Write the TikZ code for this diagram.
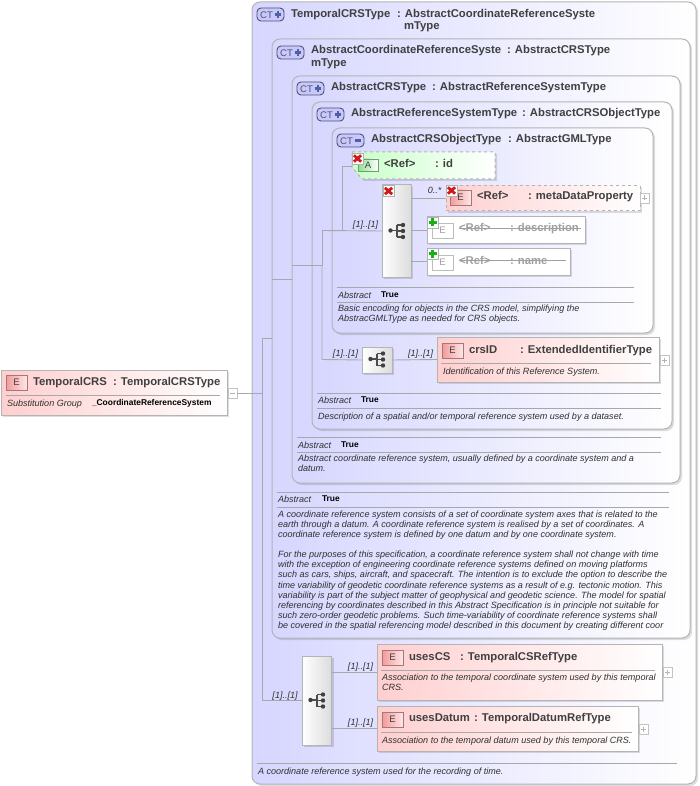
\documentclass[tikz,border=0pt]{standalone}
\usepackage{fontspec}
\setmainfont{Liberation Sans}
\usetikzlibrary{shadows}
\definecolor{ink}{HTML}{404040}
\definecolor{txt}{HTML}{303030}
\definecolor{edgeg}{HTML}{B4B4B4}
\definecolor{conng}{HTML}{A8A8A8}
\definecolor{dis}{HTML}{A0A0A0}
\definecolor{ctblue}{HTML}{D6D6FF}
\definecolor{elpink}{HTML}{FFCFCF}
\definecolor{attgreen}{HTML}{C8FFC8}
\definecolor{seqgray}{HTML}{DCDCDC}
\definecolor{eedge}{HTML}{A07A7A}
\definecolor{eleft}{HTML}{F49A9A}
\definecolor{eright}{HTML}{FFE6E6}
\definecolor{ctedge}{HTML}{505070}
\definecolor{ctfill}{HTML}{C8C8FC}
\definecolor{ctsign}{HTML}{5060A0}
\definecolor{aedge}{HTML}{6F9F6F}
\definecolor{aleft}{HTML}{8FE08F}
\tikzset{
 sh/.style={drop shadow={shadow xshift=2pt,shadow yshift=-2pt,fill=black,opacity=.13}},
 ctbox/.style={draw=edgeg,line width=1pt,rounded corners=8pt,left color=ctblue,right color=white,inner sep=0pt,outer sep=0pt,sh},
 elbox/.style={draw=edgeg,line width=1pt,left color=elpink,right color=white,inner sep=0pt,outer sep=0pt,sh},
 refbox/.style={elbox,dashed},
 disbox/.style={draw=edgeg,line width=1pt,fill=white,inner sep=0pt,outer sep=0pt,sh},
 attshape/.style={draw=edgeg,dashed,line width=1pt,left color=attgreen,right color=white,sh},
 seqbox/.style={draw=edgeg,line width=1pt,left color=white,right color=seqgray,inner sep=0pt,outer sep=0pt,sh},
 expbox/.style={draw=edgeg!80,line width=.7pt,fill=white,inner sep=0pt,outer sep=0pt},
 eicon/.style={draw=eedge,line width=.8pt,left color=eleft,right color=eright,inner sep=0pt,outer sep=0pt},
 eicond/.style={draw=dis!70,line width=.7pt,fill=white,inner sep=0pt,outer sep=0pt},
 cticon/.style={draw=ctedge,line width=.9pt,rounded corners=4pt,fill=ctfill,inner sep=0pt,outer sep=0pt},
 aicon/.style={draw=aedge,line width=.8pt,left color=aleft,right color=white,inner sep=0pt,outer sep=0pt},
 tt/.style={anchor=base west,inner sep=0pt,outer sep=0pt,text=ink,font=\fontsize{11.3}{13}\selectfont\bfseries},
 ttd/.style={tt,text=dis},
 it/.style={anchor=base west,inner sep=0pt,outer sep=0pt,text=txt,font=\fontsize{9.05}{10.15}\selectfont\itshape},
 tru/.style={anchor=base west,inner sep=0pt,outer sep=0pt,text=black,font=\fontsize{8.4}{9}\selectfont\bfseries},
 card/.style={anchor=base,inner sep=0pt,outer sep=0pt,text=txt,font=\fontsize{9}{10}\selectfont\itshape},
 conn/.style={draw=conng,line width=.9pt},
 rulel/.style={draw=conng,line width=.9pt},
 seqsym/.pic={
  \draw[black!70,line width=1.1pt] (-6.5,0) -- (0,0) (0,-5.5) -- (0,6.5) (0,-5.5) -- (6,-5.5) (0,.5) -- (6,.5) (0,6.5) -- (6,6.5);
  \fill[black!75] (-6.5,0) circle (2.2);
  \fill[black!75] (6,-5.5) circle (2.2) (6,.5) circle (2.2) (6,6.5) circle (2.2);
 },
 xmark/.pic={
  \fill[white] (-5.5,-5.5) rectangle (5.5,5.5);
  \draw[black!30,line width=.4pt] (-5.5,-5.5) rectangle (5.5,5.5);
  \draw[red!80!black!90,line width=2.8pt] (-3.6,-3.2) -- (3.6,3.2) (-3.6,3.2) -- (3.6,-3.2);
 },
 gplus/.pic={
  \fill[white] (-5.5,-5.5) rectangle (5.5,5.5);
  \draw[black!30,line width=.4pt] (-5.5,-5.5) rectangle (5.5,5.5);
  \draw[green!65!black!90,line width=2.8pt] (-4,0) -- (4,0) (0,-4) -- (0,4);
 },
 pluss/.pic={\draw[edgeg,line width=.7pt] (-2.5,0) -- (2.5,0) (0,-2.5) -- (0,2.5);},
 minuss/.pic={\draw[edgeg,line width=.7pt] (-2.5,0) -- (2.5,0);},
 ctplus/.pic={\draw[ctsign,line width=2.3pt] (-3.4,0) -- (3.4,0) (0,-3.4) -- (0,3.4);},
 ctminus/.pic={\draw[ctsign,line width=2.6pt] (-3.4,0) -- (3.4,0);},
}
\newcommand{\bx}[6]{%
 \pgfmathsetmacro\qcx{(#3+#5)/2}\pgfmathsetmacro\qcy{(#4+#6)/2}%
 \pgfmathsetmacro\qw{#5-#3}\pgfmathsetmacro\qh{#6-#4}%
 \node[#2,minimum width=\qw pt,minimum height=\qh pt] (#1) at (\qcx,\qcy) {};}
\newcommand{\ctic}[4]{% name x y sign
 \bx{#1}{cticon}{#2}{#3}{#2+27}{#3+13}
 \node[anchor=base west,inner sep=0pt,text=ctedge,font=\fontsize{9.6}{10}\selectfont] (#1t) at (#2+3,#3+10.2) {CT};
 \pic at (#2+21,#3+6.5) {#4};}
\newcommand{\eic}[4]{% name x y style
 \bx{#1}{#4}{#2}{#3}{#2+21}{#3+15}
 \node[inner sep=0pt,text=ink,font=\fontsize{9.5}{10}\selectfont] (#1t) at (#1) {E};}
\newcommand{\eicd}[3]{%
 \bx{#1}{eicond}{#2}{#3}{#2+21}{#3+15}
 \node[inner sep=0pt,text=dis,font=\fontsize{9.5}{10}\selectfont] (#1t) at (#1) {E};}
\newcommand{\exb}[4]{% name x y pic
 \bx{#1}{expbox}{#2}{#3}{#2+9}{#3+10}
 \pic at (#1) {#4};}
\begin{document}
\begin{tikzpicture}[x=1pt,y=-1pt]
\useasboundingbox (0,0) rectangle (700,786);
% nested type boxes
\bx{ct1}{ctbox}{252}{2}{696}{784}
\bx{ct2}{ctbox}{272}{39}{690}{638}
\bx{ct3}{ctbox}{292}{76}{680}{483}
\bx{ct4}{ctbox}{312}{102}{672}{429}
\bx{ct5}{ctbox}{332}{128}{653}{333}
% connectors
\coordinate (j1) at (262,393);
\coordinate (j2) at (ct2.west |- 0,338);
\coordinate (j3) at (ct2.west |- 0,279);
\coordinate (j4) at (ct3.west |- 0,279);
\coordinate (j5) at (ct3.west |- 0,265.5);
\coordinate (j6) at (322,265.5);
\coordinate (j7) at (342,230.5);
\coordinate (attid) at (352,166);
% root
\bx{root}{elbox}{1}{370}{227}{415}
\exb{rootm}{228}{388}{minuss}
\bx{seq1}{seqbox}{382}{185}{411}{277}
\bx{seq2}{seqbox}{362}{347}{392}{373}
\bx{seq3}{seqbox}{302}{656}{331.5}{745}
\draw[conn] (rootm.east) -- (j1);
\draw[conn] (j2) -- (262,338) -- (262,700.5) -- (seq3.west);
\draw[conn] (j3) -- (j4);
\draw[conn] (j5) -- (j6);
\draw[conn] (322,230.5) -- (seq1.west);
\draw[conn] (322,230.5) -- (322,265.5);
\draw[conn] (322,265.5) -- (322,359.5) -- (seq2.west);
\draw[conn] (j7) -- (342,166) -- (attid);
% attribute and elements
\path[attshape] (352,152) -- (495,152) -- (495,179) -- (362,179) -- (352,167) -- cycle;
\bx{meta}{refbox}{446}{186}{640}{211}
\bx{desc}{disbox}{427}{217}{585}{243}
\bx{nam}{disbox}{427}{248}{570}{275}
\bx{crs}{elbox}{437}{337}{659}{382}
\bx{cs}{elbox}{377}{644}{662}{700}
\bx{dat}{elbox}{377}{706}{638}{751}
\draw[conn] (seq1.east |- meta.west) -- (meta.west);
\draw[conn] (seq1.east |- desc.west) -- (desc.west);
\draw[conn] (seq1.east |- nam.west) -- (nam.west);
\draw[conn] (seq2.east) -- (crs.west);
\draw[conn] (seq3.east |- cs.west) -- (cs.west);
\draw[conn] (seq3.east |- dat.west) -- (dat.west);
\pic at (397,230.5) {seqsym};
\pic at (377,359) {seqsym};
\pic at (317,700) {seqsym};
% root content
\eic{rooti}{6}{375}{eicon}
\node[tt] (r1) at (33,385) {TemporalCRS};
\node[tt] (r2) at (113,385) {: TemporalCRSType};
\draw[rulel] (6,395) -- (220,395);
\node[it] (r3) at (7,406) {Substitution Group};
\node[tru] (r4) at (92,405.5) {\_CoordinateReferenceSystem};
% ct titles
\ctic{i1}{257}{8}{ctplus}
\node[tt] (a1) at (291,18) {TemporalCRSType};
\node[tt] (a2) at (397,18) {: AbstractCoordinateReferenceSyste};
\node[tt] (a3) at (404,30) {mType};
\ctic{i2}{277}{46}{ctplus}
\node[tt] (b1) at (311,54) {AbstractCoordinateReferenceSyste};
\node[tt] (b2) at (507,54) {: AbstractCRSType};
\node[tt] (b3) at (311,67) {mType};
\ctic{i3}{297}{82}{ctplus}
\node[tt] (c1) at (331,91) {AbstractCRSType};
\node[tt] (c2) at (432,91) {: AbstractReferenceSystemType};
\ctic{i4}{317}{108}{ctplus}
\node[tt] (d1) at (351,117) {AbstractReferenceSystemType};
\node[tt] (d2) at (522,117) {: AbstractCRSObjectType};
\ctic{i5}{337}{134}{ctminus}
\node[tt] (e1) at (371,143) {AbstractCRSObjectType};
\node[tt] (e2) at (508,143) {: AbstractGMLType};
% attribute id
\bx{ai}{aicon}{358}{159}{378}{171}
\node[inner sep=0pt,text=ink,font=\fontsize{9.5}{10}\selectfont] (ait) at (ai) {A};
\pic at (357.5,158.5) {xmark};
\node[tt] (f1) at (384,168) {<Ref>};
\node[tt] (f2) at (435,168) {: id};
% metaDataProperty
\pic at (388.5,191) {xmark};
\eic{mi}{450}{190}{eicon}
\pic at (451.5,190.5) {xmark};
\node[tt] (g1) at (477,200) {<Ref>};
\node[tt] (g2) at (528,200) {: metaDataProperty};
\exb{mx}{640}{193}{pluss}
\node[card] (g3) at (434.5,194) {0..*};
% description
\eicd{di}{432}{223}
\pic at (432.5,222.5) {gplus};
\node[ttd] (h1) at (459,232) {<Ref>};
\node[ttd] (h2) at (510,232) {: description};
\draw[dis,line width=.8pt] (h1.west |- 0,228.5) -- (581,228.5);
% name
\eicd{ni}{432}{255}
\pic at (432.5,253.5) {gplus};
\node[ttd] (k1) at (459,264) {<Ref>};
\node[ttd] (k2) at (510,264) {: name};
\draw[dis,line width=.8pt] (k1.west |- 0,260.5) -- (566,260.5);
\node[card] (c11) at (365.5,228) {[1]..[1]};
% ct5 footer
\draw[rulel] (337,287.5) -- (634,287.5);
\node[it] (l1) at (338,298) {Abstract};
\node[tru] (l2) at (381,297) {True};
\draw[rulel] (337,302.5) -- (634,302.5);
\node[it,align=left,anchor=north west] (l3) at (338,305) {Basic encoding for objects in the CRS model, simplifying the\\AbstracGMLType as needed for CRS objects.};
% crsID
\node[card] (c12) at (345.5,356) {[1]..[1]};
\node[card] (c13) at (420.5,356) {[1]..[1]};
\eic{ci}{442}{343}{eicon}
\node[tt] (m1) at (469,353) {crsID};
\node[tt] (m2) at (520,353) {: ExtendedIdentifierType};
\draw[rulel] (441,363) -- (651,363);
\node[it] (m3) at (443,374) {Identification of this Reference System.};
\exb{cx}{660}{355}{pluss}
% ct4 footer
\draw[rulel] (317,393) -- (661,393);
\node[it] (n1) at (318,403) {Abstract};
\node[tru] (n2) at (361,402.5) {True};
\draw[rulel] (317,408) -- (661,408);
\node[it] (n3) at (318,419) {Description of a spatial and/or temporal reference system used by a dataset.};
% ct3 footer
\draw[rulel] (297,437) -- (661,437);
\node[it] (o1) at (298,448) {Abstract};
\node[tru] (o2) at (341,447) {True};
\draw[rulel] (297,452.5) -- (661,452.5);
\node[it,align=left,anchor=north west] (o3) at (298,455) {Abstract coordinate reference system, usually defined by a coordinate system and a\\datum.};
% ct2 footer
\draw[rulel] (277,492) -- (669,492);
\node[it] (p1) at (278,502.5) {Abstract};
\node[tru] (p2) at (322,501.5) {True};
\draw[rulel] (277,507) -- (669,507);
\node[it,align=left,anchor=north west] (p3) at (278,510.5) {A coordinate reference system consists of a set of coordinate system axes that is related to the\\
earth through a datum. A coordinate reference system is realised by a set of coordinates. A\\
coordinate reference system is defined by one datum and by one coordinate system.\\[10.15pt]
For the purposes of this specification, a coordinate reference system shall not change with time\\
with the exception of engineering coordinate reference systems defined on moving platforms\\
such as cars, ships, aircraft, and spacecraft. The intention is to exclude the option to describe the\\
time variability of geodetic coordinate reference systems as a result of e.g. tectonic motion. This\\
variability is part of the subject matter of geophysical and geodetic science. The model for spatial\\
referencing by coordinates described in this Abstract Specification is in principle not suitable for\\
such zero-order geodetic problems. Such time-variability of coordinate reference systems shall\\
be covered in the spatial referencing model described in this document by creating different coor};
% usesCS
\node[card] (c14) at (285,698) {[1]..[1]};
\node[card] (c15) at (360.5,669) {[1]..[1]};
\eic{si}{382}{650}{eicon}
\node[tt] (q1) at (409,660) {usesCS};
\node[tt] (q2) at (460,660) {: TemporalCSRefType};
\draw[rulel] (381,670) -- (655,670);
\node[it,align=left,anchor=north west] (q3) at (382,673.5) {Association to the temporal coordinate system used by this temporal\\CRS.};
\exb{sx}{663}{667}{pluss}
% usesDatum
\node[card] (c16) at (360.5,725) {[1]..[1]};
\eic{ui}{382}{712}{eicon}
\node[tt] (s1) at (409,721) {usesDatum};
\node[tt] (s2) at (474,721) {: TemporalDatumRefType};
\draw[rulel] (381,732) -- (632,732);
\node[it] (s3) at (382,743) {Association to the temporal datum used by this temporal CRS.};
\exb{ux}{639}{724}{pluss}
% ct1 footer
\draw[rulel] (257,763.5) -- (677,763.5);
\node[it] (u1) at (258,774) {A coordinate reference system used for the recording of time.};
\end{tikzpicture}
\end{document}
